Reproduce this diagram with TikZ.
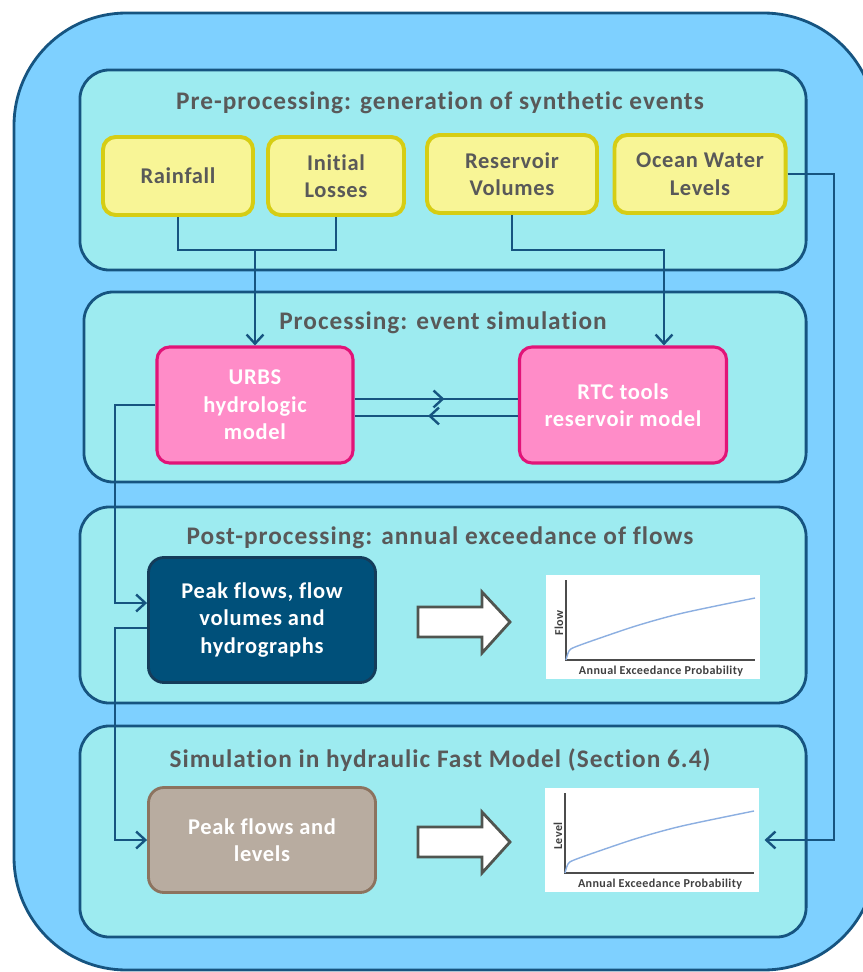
\documentclass[tikz,border=0pt]{standalone}
\usepackage{fontspec}
\setmainfont{Carlito}[Ligatures=NoCommon]
\usetikzlibrary{arrows.meta, positioning, decorations.markings}
\usepackage{xcolor}
\definecolor{outerfill}{RGB}{126,208,255}
\definecolor{secfill}{RGB}{157,235,240}
\definecolor{darkblue}{RGB}{22,84,128}
\definecolor{titlegray}{RGB}{89,89,89}
\definecolor{yellowfill}{RGB}{248,245,150}
\definecolor{yellowline}{RGB}{214,205,20}
\definecolor{pinkfill}{RGB}{255,140,200}
\definecolor{pinkline}{RGB}{225,20,120}
\definecolor{peakfill}{RGB}{0,80,122}
\definecolor{peakline}{RGB}{20,60,90}
\definecolor{levelfill}{RGB}{184,172,160}
\definecolor{levelline}{RGB}{140,115,95}
\definecolor{curveblue}{RGB}{140,175,225}
\definecolor{arrowgray}{RGB}{80,85,80}
\def\secwidth{18.15cm}

\begin{document}
\begin{tikzpicture}[x=0.025cm, y=-0.025cm, >={Straight Barb[length=6.5pt,width=12pt]}, font=\bfseries]
    \tikzstyle{link}=[draw=darkblue, line width=1.7pt]
    \tikzstyle{mid arrow}=[postaction={decorate}, decoration={markings, mark=at position 0.55 with {\arrow{>}}}]
    \tikzstyle{section}=[rectangle, rounded corners=21pt, fill=secfill, draw=darkblue, line width=2pt, minimum width=\secwidth]
    \tikzstyle{title}=[text=titlegray, font=\fontsize{18}{21}\selectfont\bfseries\addfontfeature{LetterSpace=4}]
    \tikzstyle{box}=[rectangle, rounded corners=9pt, align=center, inner sep=2pt, font=\fontsize{16}{19.5}\selectfont\bfseries\addfontfeature{LetterSpace=3}]
    \tikzstyle{input box}=[box, fill=yellowfill, draw=yellowline, line width=2.8pt, text=titlegray, minimum height=1.95cm]
    \tikzstyle{model box}=[box, fill=pinkfill, draw=pinkline, line width=2.2pt, text=white, minimum height=2.9cm]
    \tikzstyle{result box}=[box, rounded corners=11pt, line width=2pt, text=white, minimum width=5.675cm]
    \tikzstyle{plot}=[rectangle, fill=white, minimum width=5.33cm, minimum height=2.62cm, inner sep=0pt]
    \tikzstyle{axis}=[draw=black!70, line width=1.3pt]
    \tikzstyle{axis label}=[text=black!75, font=\fontsize{8.6}{9}\selectfont\bfseries\addfontfeature{LetterSpace=3}]
    \tikzstyle{block arrow}=[fill=white, draw=arrowgray, line width=2pt]

    \useasboundingbox (0,0) rectangle (862,972);

    % Outer frame
    \draw[fill=outerfill, draw=darkblue, line width=2pt, rounded corners=80pt] (14,13) rectangle (876,970);

    % Draw the four sections with their titles
    \node[section, minimum height=5cm] (sec1) at (443,170) {};
    \node[section, minimum width=18.05cm, minimum height=4.75cm] (sec2) at (445,387) {};
    \node[section, minimum height=4.9cm] (sec3) at (443,605) {};
    \node[section, minimum height=5.275cm] (sec4) at (443,831.5) {};

    \node[title] (t1) at (440,103) {Pre-processing: generation of synthetic events};
    \node[title] (t2) at (443,323) {Processing: event simulation};
    \node[title] (t3) at (440,538) {Post-processing: annual exceedance of flows};
    \node[title] (t4) at (440,760) {Simulation in hydraulic Fast Model (Section 6.4)};

    % Synthetic event inputs
    \node[input box, minimum width=3.75cm] (rain) at (178,176) {Rainfall};
    \node[input box, minimum width=3.4cm] (loss) at (336,176) {Initial\\Losses};
    \node[input box, minimum width=4.25cm] (res) at (512,174) {Reservoir\\Volumes};
    \node[input box, minimum width=4.275cm] (ocean) at (700,174) {Ocean Water\\Levels};

    % Models
    \node[model box, minimum width=4.9cm] (urbs) at (255,405) {URBS\\hydrologic\\model};
    \node[model box, minimum width=5.175cm] (rtc) at (623,405) {RTC tools\\reservoir model};

    % Results
    \node[result box, fill=peakfill, draw=peakline, minimum height=3.125cm] (peak) at (262,620) {Peak flows, flow\\volumes and\\hydrographs};
    \node[result box, fill=levelfill, draw=levelline, minimum height=2.625cm] (levels) at (262,840) {Peak flows and\\levels};

    % Block arrows towards the curves
    \foreach \y in {622,842}
        \draw[block arrow] (418,\y-15) -- (482,\y-15) -- (482,\y-30) -- (510,\y) -- (482,\y+31) -- (482,\y+15) -- (418,\y+15) -- cycle;

    % Exceedance curves
    \foreach \name/\cx/\cy/\lab in {flowplot/653/627/Flow, levelplot/652/840/Level}
    {
        \node[plot] (\name) at (\cx,\cy) {};
        \begin{scope}[shift={(\cx,\cy)}]
            \draw[axis] (-87,-47) |- (102,33);
            \draw[curveblue, line width=1pt] plot[smooth] coordinates {(-87,33) (-84,24) (-78,20) (-50,10) (-14,-2) (30,-14) (102,-29)};
            \node[axis label, rotate=90] at (-94,-4) {\lab};
            \node[axis label] at (8,44) {Annual Exceedance Probability};
        \end{scope}
    }

    % Inputs to the models
    \coordinate (jA) at (255,250);
    \coordinate (jB) at (664,250);
    \coordinate (jC) at (834,174);
    \draw[link] (rain.south) |- (jA) -| (loss.south);
    \draw[link,->] (jA) -- (urbs.north);
    \draw[link,->] (res.south) |- (jB) -- (jB |- rtc.north);
    \draw[link,->,shorten >=4pt] (ocean.east) -- (jC) |- (levelplot.east);

    % Exchange between the models
    \draw[link, mid arrow] ([yshift=4.3pt]urbs.east) -- ([yshift=4.3pt]rtc.west);
    \draw[link, mid arrow] ([yshift=-7.8pt]rtc.west) -- ([yshift=-7.8pt]urbs.east);

    % Model outputs down the left side
    \coordinate (jD) at (115,603);
    \coordinate (jE) at (115,628);
    \coordinate (jF) at (115,840);
    \draw[link,->] (urbs.west) -| (jD) -- (jD -| peak.west);
    \draw[link,->] (jE -| peak.west) -- (jE) -- (jF) -- (levels.west);
\end{tikzpicture}
\end{document}
